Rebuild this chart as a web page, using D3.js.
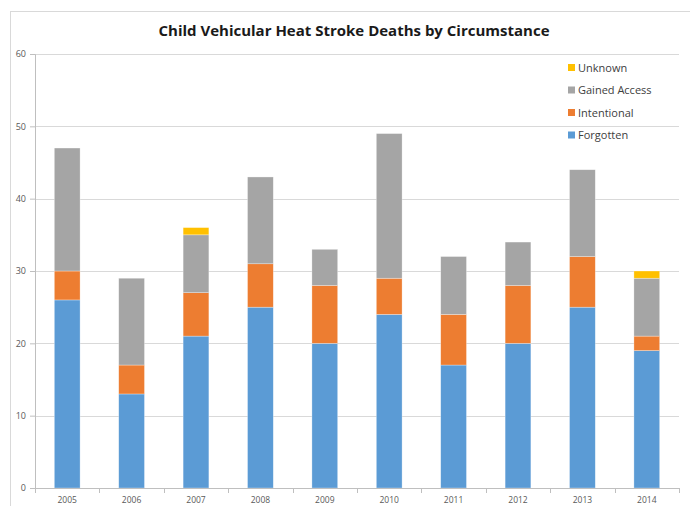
<!DOCTYPE html>
<html>
<head>
<meta charset="utf-8">
<style>
  body { margin: 0; background: #fff; }
  svg text { font-family: "Open Sans", "Liberation Sans", sans-serif; }
</style>
</head>
<body>
<svg id="chart" width="690" height="506"></svg>
<script src="https://cdn.jsdelivr.net/npm/d3@7"></script>
<script>
// data
var years = ["2005","2006","2007","2008","2009","2010","2011","2012","2013","2014"];
var forgotten    = [26, 13, 21, 25, 20, 24, 17, 20, 25, 19];
var intentional  = [ 4,  4,  6,  6,  8,  5,  7,  8,  7,  2];
var gainedAccess = [17, 12,  8, 12,  5, 20,  8,  6, 12,  8];
var unknown      = [ 0,  0,  1,  0,  0,  0,  0,  0,  0,  1];
var seriesNames = ["Forgotten", "Intentional", "Gained Access", "Unknown"];
var yTicks = [0, 10, 20, 30, 40, 50, 60];

var colors = ["#5b9bd5", "#ed7d31", "#a5a5a5", "#ffc000"];

var svg = d3.select("#chart");

// chart frame
svg.append("rect")
    .attr("x", 10.5).attr("y", 11.5)
    .attr("width", 700).attr("height", 520)
    .attr("fill", "#fff")
    .attr("stroke", "#d9d9d9");

var margin = {left: 35, right: 11, top: 54, bottom: 18},
    width = 690 - margin.left - margin.right,
    height = 506 - margin.top - margin.bottom;

var g = svg.append("g").attr("transform", "translate(" + margin.left + "," + margin.top + ")");

var x = d3.scaleBand().domain(years).range([0, width]).paddingInner(0.6).paddingOuter(0.3);
var xb = d3.scaleBand().domain(years).range([0, width]);
var y = d3.scaleLinear().domain([0, 60]).range([height, 0]);

// gridlines
g.append("g").selectAll("line")
  .data(yTicks.slice(1))
  .enter().append("line")
    .attr("x1", 0).attr("x2", width)
    .attr("y1", function(d) { return Math.round(y(d)) + 0.5; })
    .attr("y2", function(d) { return Math.round(y(d)) + 0.5; })
    .attr("stroke", "#d9d9d9");

// y axis
var yAxis = g.append("g")
    .call(d3.axisLeft(y).tickValues(yTicks).tickSize(5).tickPadding(4));
yAxis.select(".domain").attr("stroke", "#bfbfbf");
yAxis.selectAll(".tick line").attr("stroke", "#bfbfbf");
yAxis.selectAll("text").attr("fill", "#595959").attr("font-size", "9px")
    .attr("font-family", "'Open Sans', sans-serif");

// stacked bars
var rows = years.map(function(yr, i) {
  return {year: yr, Forgotten: forgotten[i], Intentional: intentional[i],
          "Gained Access": gainedAccess[i], Unknown: unknown[i]};
});
var stack = d3.stack().keys(seriesNames)(rows);

g.append("g").selectAll("g")
  .data(stack)
  .enter().append("g")
    .attr("fill", function(d, i) { return colors[i]; })
  .selectAll("rect")
  .data(function(d) { return d; })
  .enter().append("rect")
    .filter(function(d) { return d[1] > d[0]; })
    .attr("x", function(d) { return x(d.data.year); })
    .attr("y", function(d) { return y(d[1]); })
    .attr("width", x.bandwidth())
    .attr("height", function(d) { return y(d[0]) - y(d[1]); })
    .attr("stroke", "#ffffff")
    .attr("stroke-opacity", 0.5)
    .attr("stroke-width", 0.6);

// x axis
var xAxisG = g.append("g").attr("transform", "translate(0," + height + ")");
xAxisG.append("line")
    .attr("x1", 0).attr("x2", width)
    .attr("y1", 0.5).attr("y2", 0.5)
    .attr("stroke", "#bfbfbf");
xAxisG.selectAll("line.tk")
  .data(years.concat(["end"]))
  .enter().append("line")
    .attr("class", "tk")
    .attr("x1", function(d, i) { return Math.round(i * xb.bandwidth()) + 0.5; })
    .attr("x2", function(d, i) { return Math.round(i * xb.bandwidth()) + 0.5; })
    .attr("y1", 0).attr("y2", 5)
    .attr("stroke", "#bfbfbf");
xAxisG.selectAll("text")
  .data(years)
  .enter().append("text")
    .attr("x", function(d) { return xb(d) + xb.bandwidth() / 2; })
    .attr("y", 15)
    .attr("text-anchor", "middle")
    .attr("fill", "#595959")
    .attr("font-size", "8.5px")
    .text(function(d) { return d; });

// title
svg.append("text")
    .attr("x", 354).attr("y", 36)
    .attr("text-anchor", "middle")
    .attr("font-size", "15px")
    .attr("font-weight", "bold")
    .attr("fill", "#1a1a1a")
    .text("Child Vehicular Heat Stroke Deaths by Circumstance");

// legend (reverse order, top to bottom)
var legend = svg.append("g").selectAll("g")
  .data(seriesNames.slice().reverse())
  .enter().append("g")
    .attr("transform", function(d, i) { return "translate(568," + (68 + i * 22.5) + ")"; });
legend.append("rect")
    .attr("x", 0).attr("y", -4)
    .attr("width", 7).attr("height", 7)
    .attr("fill", function(d) { return colors[seriesNames.indexOf(d)]; });
legend.append("text")
    .attr("x", 10).attr("y", 0)
    .attr("dy", "0.35em")
    .attr("font-size", "11px")
    .attr("fill", "#404040")
    .text(function(d) { return d; });
</script>
</body>
</html>
